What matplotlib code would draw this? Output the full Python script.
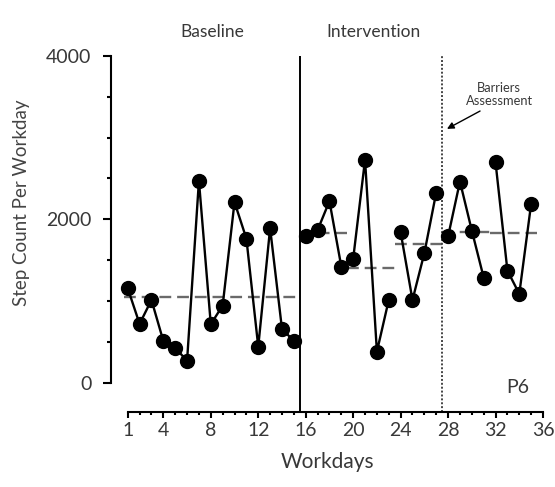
import matplotlib.pyplot as plt
import numpy as np

plt.rcParams['font.family'] = ['Lato', 'DejaVu Sans']

# Step counts per workday (P6)
days = list(range(1, 36))
steps = [1158, 722, 1015, 514, 432, 269, 2471, 718, 946, 2210,
         1765, 444, 1892, 661, 514,
         1798, 1868, 2223, 1423, 1517, 2728, 383, 1015,
         1843, 1015, 1587, 2328,
         1792, 2462, 1863, 1288,
         2695, 1374, 1089, 2190]
# connected runs of points (first day, last day)
runs = [(1, 15), (16, 23), (24, 27), (28, 31), (32, 35)]
# windows for the dashed mean lines (first day, last day)
mean_windows = [(1, 15), (16, 19), (20, 23), (24, 27), (28, 31), (32, 35)]
xticks = [1, 4, 8, 12, 16, 20, 24, 28, 32, 36]
yticks = [0, 2000, 4000]

txt = '#383838'
fig = plt.figure(figsize=(5.55, 4.87), dpi=100)
ax = fig.add_axes([0.2, 0.1546, 0.7784, 0.731])

d = np.array(days)
s = np.array(steps)

# dashed phase / window means
for a, b in mean_windows:
    m = s[(d >= a) & (d <= b)].mean()
    x0, x1 = (0.7, 15.3) if a == 1 else (a - 0.5, b + 0.5)
    ax.plot([x0, x1], [m, m], color='#6a6a6a', lw=1.7, ls=(0, (5, 2.5)), zorder=1)

for a, b in runs:
    sel = (d >= a) & (d <= b)
    ax.plot(d[sel], s[sel], color='black', lw=1.7, marker='o', ms=10,
            markerfacecolor='black', zorder=3, clip_on=False)

# phase change lines
ax.axvline(15.5, ymin=0, ymax=1, color='black', lw=1.4, zorder=2)
ax.axvline(27.5, ymin=0, ymax=1, color='#444444', lw=1.4, ls=(0, (1, 1)), zorder=2)

ax.set_xlim(-0.41, 36)
ax.set_ylim(-351, 4000)

for sp in ['top', 'right']:
    ax.spines[sp].set_visible(False)
ax.spines['left'].set_bounds(0, 4000)
ax.spines['bottom'].set_bounds(1, 36)
ax.spines['left'].set_linewidth(1.5)
ax.spines['bottom'].set_linewidth(1.5)

ax.set_yticks(yticks)
ax.set_yticks(np.arange(0, 4001, 500), minor=True)
ax.set_xticks(xticks)
ax.set_xticks(np.arange(1, 37), minor=True)
ax.tick_params(axis='y', which='major', length=6, width=1.5, pad=8, labelsize=14, labelcolor=txt)
ax.tick_params(axis='y', which='minor', length=3, width=1.5)
ax.tick_params(axis='x', which='major', length=4.5, width=1.5, pad=3, labelsize=14, labelcolor=txt)
ax.tick_params(axis='x', which='minor', length=2.5, width=1.5)

ax.set_xlabel('Workdays', fontsize=15, color=txt, labelpad=9)
ax.set_ylabel('Step Count Per Workday', fontsize=13.5, color='#444444')
ax.yaxis.set_label_coords(-0.188, 0.586)

ax.text(8.1, 4290, 'Baseline', ha='center', va='center', fontsize=12.5, color=txt)
ax.text(21.75, 4290, 'Intervention', ha='center', va='center', fontsize=12.5, color=txt)
ax.text(32.3, 3525, 'Barriers\nAssessment', ha='center', va='center', fontsize=9.3,
        color=txt, linespacing=1.15)
ax.annotate('', xy=(27.7, 3090), xytext=(30.9, 3340),
            arrowprops=dict(arrowstyle='-|>', color='black', lw=1.0, mutation_scale=10))
ax.text(33.9, -61, 'P6', ha='center', va='center', fontsize=14, color=txt)

fig.savefig('out.png', dpi=100)
